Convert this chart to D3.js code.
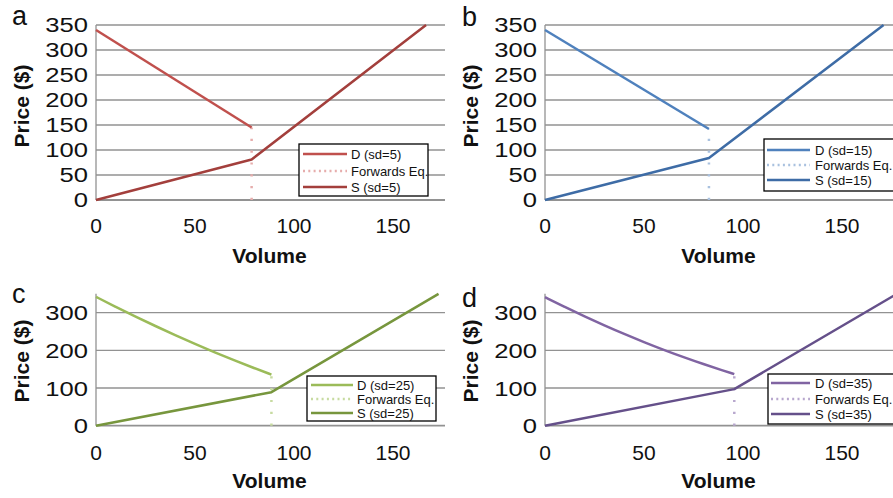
<!DOCTYPE html>
<html>
<head>
<meta charset="utf-8">
<script src="https://cdn.jsdelivr.net/npm/d3@7"></script>
<style>
  html, body { margin: 0; padding: 0; background: #fff; }
  svg { display: block; font-family: "Liberation Sans", Arial, sans-serif; }
</style>
</head>
<body>
<svg id="chart" width="893" height="498"></svg>
<script>
// ---------------- data ----------------
const panelLetters = ["a", "b", "c", "d"];
const sdValues = [5, 15, 25, 35];

// Demand curves (volume, price)
const demandVolA = [0, 78.6];
const demandPriceA = [340, 145];
const demandVolB = [0, 82.8];
const demandPriceB = [340, 142];
const demandVolC = [0, 10, 20, 30, 40, 50, 60, 70, 80, 88.6];
const demandPriceC = [342, 315.2, 289.4, 264.4, 240.3, 217, 194.7, 173.2, 152.6, 135.6];
const demandVolD = [0, 10, 20, 30, 40, 50, 60, 70, 80, 90, 95.6];
const demandPriceD = [341, 314.9, 290, 266.2, 243.4, 221.8, 201.2, 181.8, 163.4, 146.2, 137];

// Supply curves (volume, price)
const supplyVolA = [0, 78.6, 166.7];
const supplyPriceA = [0, 81, 350];
const supplyVolB = [0, 82.8, 171];
const supplyPriceB = [0, 84, 350];
const supplyVolC = [0, 88.6, 173];
const supplyPriceC = [0, 89, 350];
const supplyVolD = [0, 95.6, 177.8];
const supplyPriceD = [0, 97, 350];

// Forwards equilibrium volume (vertical dotted line from 0 to the demand end)
const eqVolume = [78.6, 82.8, 88.6, 95.6];
const eqTopPrice = [145, 142, 136, 137];

const xTicks = [0, 50, 100, 150];
const yTicksTop = [0, 50, 100, 150, 200, 250, 300, 350];
const yTicksBottom = [0, 100, 200, 300];

const demandColors = ["#c0504d", "#4f81bd", "#9bbb59", "#8064a2"];
const supplyColors = ["#a33f3c", "#3e6ca6", "#77963d", "#65508a"];
const eqColors = ["#e6adac", "#a9c1df", "#c7dba1", "#b8a8ce"];

// ---------------- build ----------------
const zip = (a, b) => a.map((v, i) => [v, b[i]]);
const demand = [zip(demandVolA, demandPriceA), zip(demandVolB, demandPriceB),
                zip(demandVolC, demandPriceC), zip(demandVolD, demandPriceD)];
const supply = [zip(supplyVolA, supplyPriceA), zip(supplyVolB, supplyPriceB),
                zip(supplyVolC, supplyPriceC), zip(supplyVolD, supplyPriceD)];

// layout
const layout = [
  { left: 96,  top: 25,    bottom: 200,   yTicks: yTicksTop,    tickBase: 233, volBase: 263, priceY: 106, letterX: 12,  letterY: 25,
    leg: { x: 299, y: 144, w: 129, h: 52, rows: [154, 171, 187], lx0: 303, lx1: 347, tx: 351 } },
  { left: 545, top: 25,    bottom: 200,   yTicks: yTicksTop,    tickBase: 233, volBase: 263, priceY: 106, letterX: 462, letterY: 26,
    leg: { x: 764, y: 139, w: 135, h: 52, rows: [150, 165, 180], lx0: 767, lx1: 810, tx: 815 } },
  { left: 96,  top: 293.8, bottom: 425.7, yTicks: yTicksBottom, tickBase: 460, volBase: 488, priceY: 361, letterX: 12,  letterY: 303,
    leg: { x: 307, y: 376, w: 129, h: 45, rows: [385, 399, 413], lx0: 311, lx1: 353, tx: 357 } },
  { left: 545, top: 293.8, bottom: 425.7, yTicks: yTicksBottom, tickBase: 460, volBase: 488, priceY: 361, letterX: 462, letterY: 307,
    leg: { x: 768, y: 374, w: 135, h: 50, rows: [383, 399, 414], lx0: 771, lx1: 810, tx: 815 } }
];

const plotW = 349;
const xMax = plotW / 1.98;
const svg = d3.select("#chart");
const gridColor = "#929292";

layout.forEach((L, i) => {
  const x = d3.scaleLinear().domain([0, xMax]).range([L.left, L.left + plotW]);
  const y = d3.scaleLinear().domain([0, 350]).range([L.bottom, L.top]);
  const g = svg.append("g");

  // gridlines
  g.selectAll("line.grid").data(L.yTicks).enter().append("line")
    .attr("x1", L.left).attr("x2", L.left + plotW)
    .attr("y1", d => y(d)).attr("y2", d => y(d))
    .attr("stroke", gridColor).attr("stroke-width", d => d === 0 ? 1.8 : 1.3);
  // left axis
  g.append("line").attr("x1", L.left).attr("x2", L.left)
    .attr("y1", y(350)).attr("y2", y(0))
    .attr("stroke", gridColor).attr("stroke-width", 1.3);

  // y tick labels
  g.selectAll("text.yt").data(L.yTicks).enter().append("text")
    .attr("x", L.left - 8).attr("y", d => y(d) + 7.5)
    .attr("text-anchor", "end").attr("font-size", 21)
    .attr("transform", `translate(${L.left - 8},0) scale(1.22,1) translate(${-(L.left - 8)},0)`)
    .attr("fill", "#111").text(d => d);
  // x tick labels
  g.selectAll("text.xt").data(xTicks).enter().append("text")
    .attr("x", d => x(d)).attr("y", L.tickBase)
    .attr("text-anchor", "middle").attr("font-size", 21)
    .attr("fill", "#111").text(d => d);

  // axis titles
  g.append("text").attr("x", L.left + plotW / 2 - 1).attr("y", L.volBase)
    .attr("text-anchor", "middle").attr("font-size", 21).attr("font-weight", "bold")
    .attr("fill", "#111").text("Volume");
  g.append("text")
    .attr("transform", `translate(${L.left - 67},${L.priceY}) rotate(-90)`)
    .attr("text-anchor", "middle").attr("font-size", 21).attr("font-weight", "bold")
    .attr("fill", "#111").text("Price ($)");
  // panel letter
  g.append("text").attr("x", L.letterX).attr("y", L.letterY)
    .attr("font-size", 27).attr("fill", "#111").text(panelLetters[i]);

  // forwards equilibrium dotted line
  g.append("line")
    .attr("x1", x(eqVolume[i])).attr("x2", x(eqVolume[i]))
    .attr("y1", y(0)).attr("y2", y(eqTopPrice[i]))
    .attr("stroke", eqColors[i]).attr("stroke-width", 2.5)
    .attr("stroke-dasharray", "2.2,9.6");

  const line = d3.line().x(d => x(d[0])).y(d => y(d[1]));
  const curveLine = d3.line().x(d => x(d[0])).y(d => y(d[1])).curve(d3.curveBasis);
  g.append("path").attr("d", (demand[i].length > 2 ? curveLine : line)(demand[i]))
    .attr("fill", "none").attr("stroke", demandColors[i]).attr("stroke-width", 2.5);
  g.append("path").attr("d", line(supply[i]))
    .attr("fill", "none").attr("stroke", supplyColors[i]).attr("stroke-width", 2.5)
    .attr("stroke-linejoin", "round");

  // legend
  const lg = L.leg;
  g.append("rect").attr("x", lg.x).attr("y", lg.y).attr("width", lg.w).attr("height", lg.h)
    .attr("fill", "#fff").attr("stroke", "#000").attr("stroke-width", 1.3);
  const items = [
    { label: `D (sd=${sdValues[i]})`, color: demandColors[i], dash: null },
    { label: "Forwards Eq.", color: eqColors[i], dash: "2,3.3" },
    { label: `S (sd=${sdValues[i]})`, color: supplyColors[i], dash: null }
  ];
  items.forEach((it, k) => {
    const ly = lg.rows[k];
    const ln = g.append("line").attr("x1", lg.lx0).attr("x2", lg.lx1)
      .attr("y1", ly).attr("y2", ly)
      .attr("stroke", it.color).attr("stroke-width", 2.5);
    if (it.dash) ln.attr("stroke-dasharray", it.dash);
    g.append("text").attr("x", lg.tx).attr("y", ly + 4.7)
      .attr("font-size", 13).attr("fill", "#111").text(it.label);
  });
});
</script>
</body>
</html>
